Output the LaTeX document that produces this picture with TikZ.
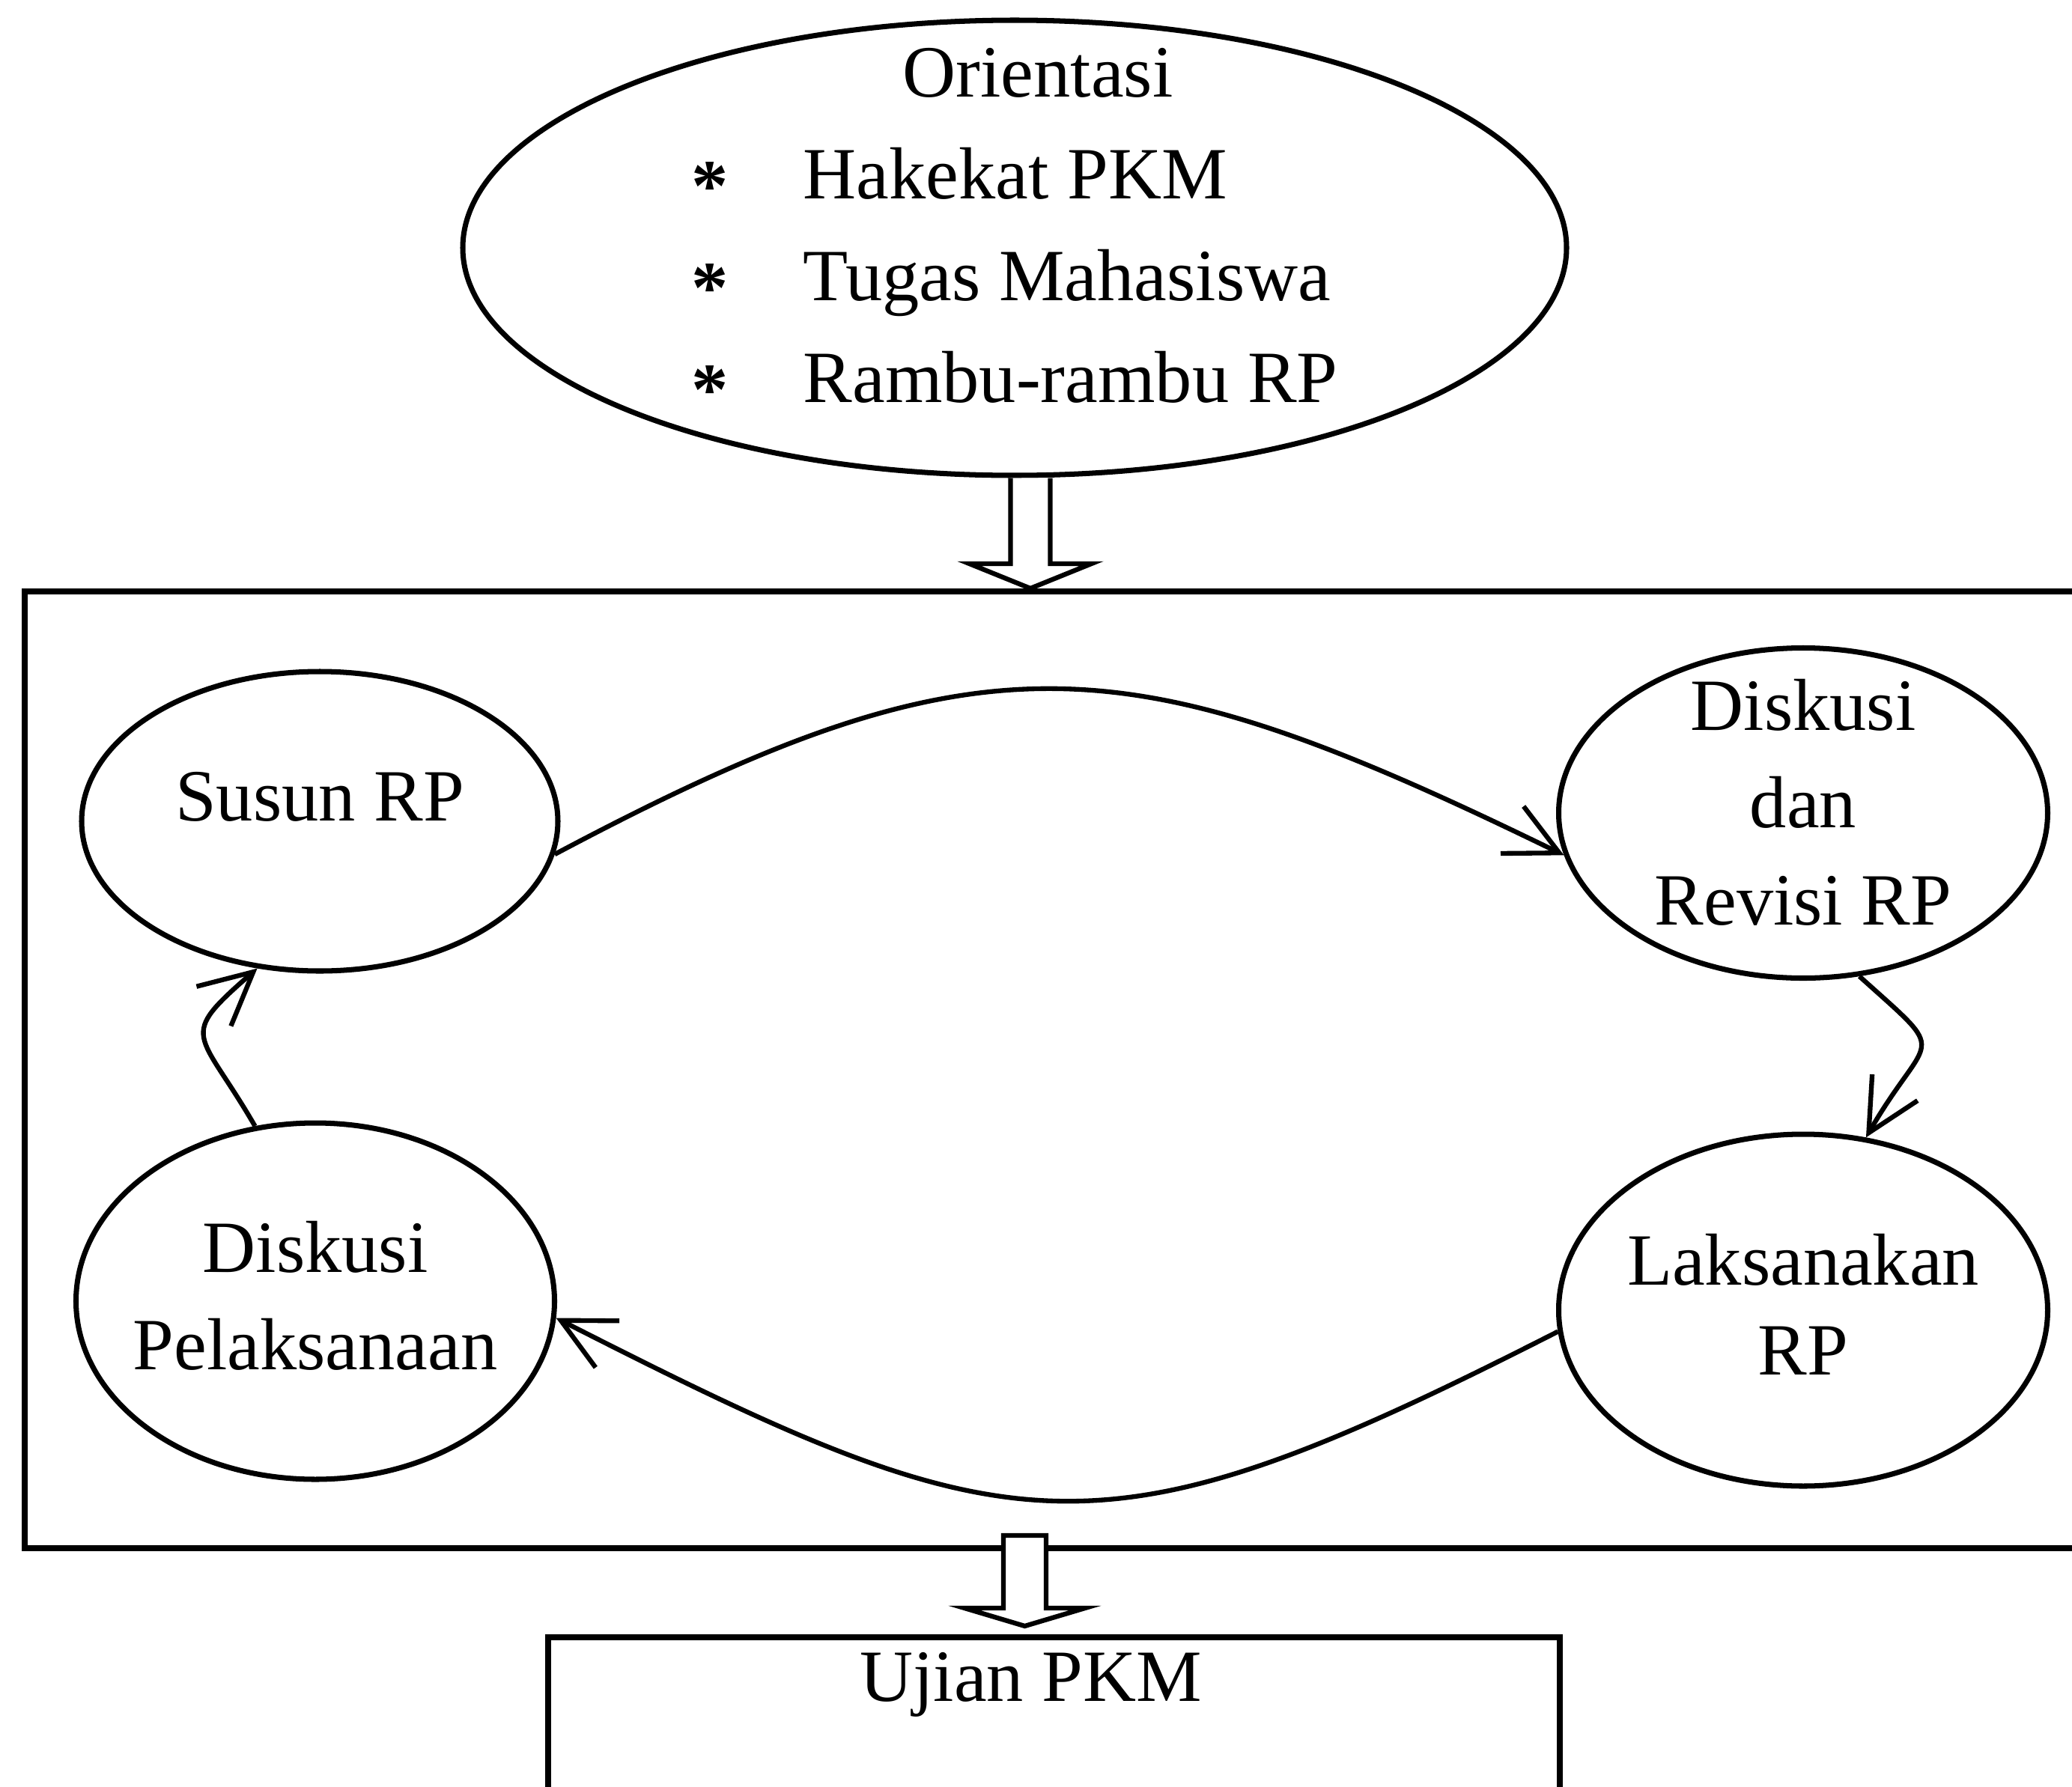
\documentclass[tikz,border=0pt]{standalone}
\usepackage{fontspec}
\setmainfont{Liberation Serif}
\usetikzlibrary{shapes.geometric, positioning, arrows.meta, calc}

\begin{document}
\begin{tikzpicture}[->,>={Straight Barb[length=7mm,width=7mm]},line width=1.8pt,
    font=\fontsize{28}{37}\selectfont,
    oval/.style={ellipse,draw,line width=2pt,inner xsep=-0.5cm,inner ysep=-3cm},
    box/.style={rectangle,draw,line width=2.3pt},
    fat/.style={draw,fill=white,line width=1.8pt}]
    \useasboundingbox (0,0) rectangle (27.67,-23.87);
    \clip (0,0) rectangle (27.67,-23.87);

    \node[oval,-,minimum width=14.74cm,minimum height=6.08cm,
          font=\fontsize{28}{38.7}\selectfont] (orient) at (13.55,-3.31) {%
        \begin{tabular}{@{}c@{\hspace{1cm}}l@{}}
            \multicolumn{2}{c}{\hspace{0.62cm}Orientasi}\\
            \raisebox{-0.16em}{\textbf{*}} & Hakekat PKM\\
            \raisebox{-0.16em}{\textbf{*}} & Tugas Mahasiswa\\
            \raisebox{-0.16em}{\textbf{*}} & Rambu-rambu RP\\[0.49cm]
        \end{tabular}};
    \node[box,-,minimum width=27.57cm,minimum height=12.78cm] (frame) at (14.115,-14.29) {};

    \node[oval,-,minimum width=6.36cm,minimum height=4.0cm] (susun) at (4.27,-10.97)
        {\begin{tabular}{@{}c@{}}Susun RP\\[0.54cm]\end{tabular}};
    \node[oval,-,minimum width=6.53cm,minimum height=4.41cm] (revisi) at (24.08,-10.86)
        {\begin{tabular}{@{}c@{}}Diskusi\\dan\\Revisi RP\\[0.13cm]\end{tabular}};
    \node[oval,-,minimum width=6.53cm,minimum height=4.7cm] (laksana) at (24.08,-17.50)
        {\begin{tabular}{@{}c@{}}Laksanakan\\[-0.1cm]RP\end{tabular}};
    \node[oval,-,minimum width=6.39cm,minimum height=4.76cm] (diskusiP) at (4.21,-17.38)
        {\begin{tabular}{@{}c@{}}Diskusi\\Pelaksanaan\end{tabular}};

    \node[box,-,anchor=north,minimum width=13.51cm,inner ysep=0.1cm,
          text height=0.75cm,text depth=2.2cm] (ujian) at (14.075,-21.83) {Ujian PKM\hspace*{0.62cm}};

    % hollow arrows
    \coordinate (a1s) at ([xshift=0.21cm]orient.south);
    \coordinate (a1t) at (a1s |- frame.north);
    \draw[fat,-] ($(a1s)+(-0.265,0)$) -- ($(a1t)+(-0.265,0.33)$) -- ($(a1t)+(-0.815,0.33)$) -- (a1t)
        -- ($(a1t)+(0.815,0.33)$) -- ($(a1t)+(0.265,0.33)$) -- ($(a1s)+(0.265,0)$);
    \coordinate (a2s) at ([xshift=-0.43cm,yshift=0.21cm]frame.south);
    \coordinate (a2t) at ($(a2s |- ujian.north)+(0,0.11)$);
    \draw[fat,-] ($(a2s)+(-0.285,0)$) -- ($(a2t)+(-0.285,0.24)$) -- ($(a2t)+(-0.805,0.24)$) -- (a2t)
        -- ($(a2t)+(0.805,0.24)$) -- ($(a2t)+(0.285,0.24)$) -- ($(a2s)+(0.285,0)$) -- cycle;

    % the cycle
    \draw (susun.-8) .. controls +(28:6.5) and +(154:6.5) .. (revisi.190);
    \draw (revisi.-71) .. controls +(-42:1.67) and +(60:1.67) .. (laksana.70);
    \draw (laksana.185) .. controls +(-153:6.9) and +(-27:6.9) .. (diskusiP.-4.5);
    \draw (diskusiP.109) .. controls +(120:1.5) and +(-139:1.44) .. (susun.-113);
\end{tikzpicture}
\end{document}
